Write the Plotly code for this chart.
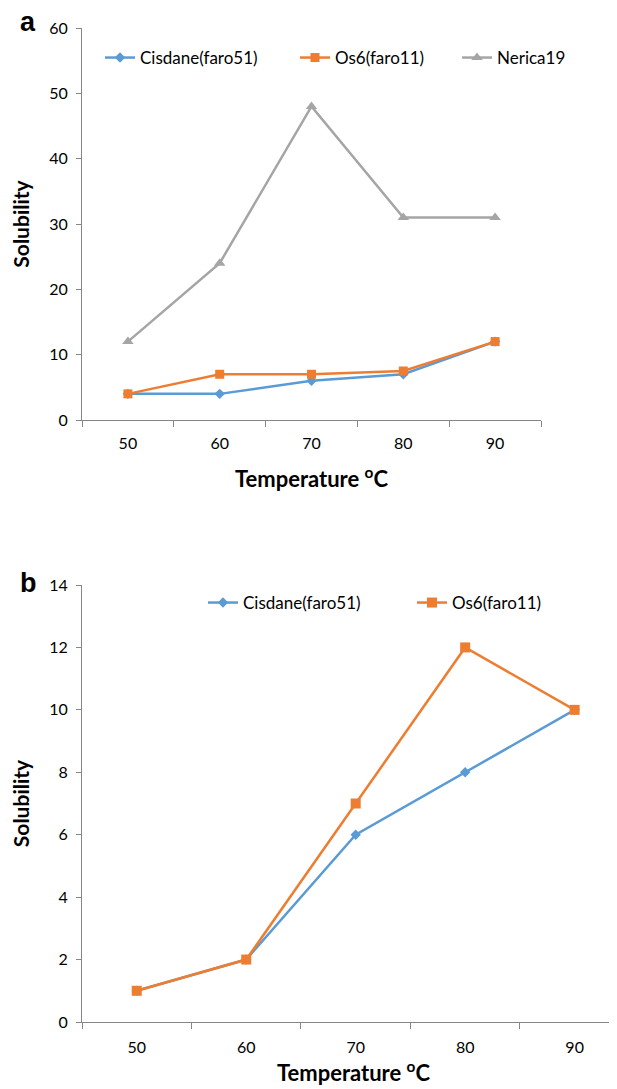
import plotly.graph_objects as go

temps = ["50", "60", "70", "80", "90"]

# Panel a
a_cisdane = [4, 4, 6, 7, 12]
a_os6 = [4, 7, 7, 7.5, 12]
a_nerica = [12, 24, 48, 31, 31]

# Panel b
b_cisdane = [1, 2, 6, 8, 10]
b_os6 = [1, 2, 7, 12, 10]

BLUE = "#5B9BD5"
ORANGE = "#ED7D31"
GRAY = "#A5A5A5"
AXC = "#868686"
FONT = "Lato, 'Open Sans', sans-serif"

W, H = 617, 1089
OX, OY = 8, 8  # page body margin
def px(v):
    return (v - OX) / W
def py(v):
    return (H - (v - OY)) / H

fig = go.Figure()

def add(x, y, name, color, symbol, size, xa, ya, legend):
    fig.add_trace(go.Scatter(
        x=x, y=y, name=name, mode="lines+markers",
        line=dict(color=color, width=2.5),
        marker=dict(symbol=symbol, size=size, color=color),
        xaxis=xa, yaxis=ya, legend=legend,
    ))

add(temps, a_cisdane, "Cisdane(faro51)", BLUE, "diamond", 8, "x", "y", "legend")
add(temps, a_os6, "Os6(faro11)", ORANGE, "square", 9, "x", "y", "legend2")
add(temps, a_nerica, "Nerica19", GRAY, "triangle-up", 10, "x", "y", "legend3")
add(temps, b_cisdane, "Cisdane(faro51)", BLUE, "diamond", 8, "x2", "y2", "legend4")
add(temps, b_os6, "Os6(faro11)", ORANGE, "square", 10, "x2", "y2", "legend5")

def xax(lab_off, title_off):
    return dict(
        type="category", showline=True, linecolor=AXC, linewidth=1,
        ticks="outside", tickson="boundaries", ticklen=6, tickcolor=AXC,
        showgrid=False, zeroline=False, automargin=False,
        ticklabelstandoff=lab_off,
        tickfont=dict(family=FONT, size=16, color="#000"),
        title=dict(text="<b>Temperature <sup>o</sup>C</b>",
                   font=dict(family=FONT, size=22, color="#000"), standoff=title_off),
    )

ycommon = dict(
    showline=True, linecolor=AXC, linewidth=1,
    ticks="outside", ticklen=5, tickcolor=AXC,
    showgrid=False, zeroline=False, automargin=False,
    ticklabelstandoff=5,
    tickfont=dict(family=FONT, size=16, color="#000"),
    title=dict(text="<b>Solubility</b>",
               font=dict(family=FONT, size=21, color="#000"), standoff=14),
)

def leg(text_x, yc):
    return dict(orientation="h", x=px(text_x - 40), y=py(yc), xanchor="left", yanchor="middle",
                font=dict(family=FONT, size=17, color="#000"),
                bgcolor="rgba(0,0,0,0)", borderwidth=0)

fig.update_layout(
    width=W, height=H,
    margin=dict(l=0, r=0, t=0, b=0),
    paper_bgcolor="white", plot_bgcolor="white",
    showlegend=True,
    xaxis=dict(xax(9, 20), domain=[px(82), px(541)], range=[-0.5, 4.5], anchor="y"),
    yaxis=dict(ycommon, domain=[py(420), py(28)], range=[0, 60], dtick=10, anchor="x"),
    xaxis2=dict(xax(11, 10), domain=[px(82), 1.0], range=[-0.5, 4.46], anchor="y2"),
    yaxis2=dict(ycommon, domain=[py(1022), py(585)], range=[0, 14], dtick=2, anchor="x2"),
    legend=leg(140, 58),
    legend2=leg(335, 58),
    legend3=leg(497, 58),
    legend4=leg(243, 603),
    legend5=leg(452, 603),
    annotations=[
        dict(text="<b>a</b>", x=px(28), y=py(22), xref="paper", yref="paper",
             xanchor="center", yanchor="middle", showarrow=False,
             font=dict(family="Liberation Sans, Arial", size=27, color="#000")),
        dict(text="<b>b</b>", x=px(28), y=py(583), xref="paper", yref="paper",
             xanchor="center", yanchor="middle", showarrow=False,
             font=dict(family="Liberation Sans, Arial", size=27, color="#000")),
    ],
)

fig.write_html("out.html")
